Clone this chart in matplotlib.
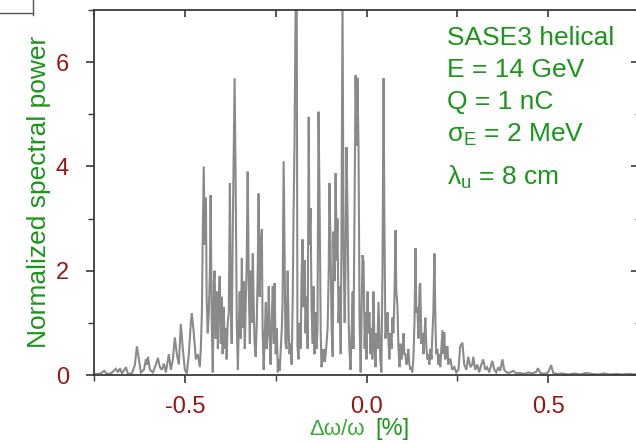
import matplotlib
matplotlib.use("Agg")
import matplotlib.pyplot as plt
from matplotlib.ticker import MultipleLocator, FixedLocator
from matplotlib.lines import Line2D

plt.rcParams['font.family'] = ['Liberation Sans', 'DejaVu Sans']
plt.rcParams['mathtext.fontset'] = 'custom'
plt.rcParams['mathtext.rm'] = 'Liberation Sans'
plt.rcParams['mathtext.it'] = 'Liberation Sans'
plt.rcParams['mathtext.bf'] = 'Liberation Sans:bold'

# ---------------- data ----------------
# relative frequency deviation, percent
freq_left = [-0.7445, -0.7308, -0.7225, -0.7143, -0.7033, -0.6896, -0.6841, -0.6786,
             -0.6731, -0.6621, -0.6566, -0.6456, -0.6374, -0.6319, -0.6264, -0.6209,
             -0.6126, -0.6071, -0.6044, -0.6016, -0.5961, -0.5879, -0.5797, -0.5742,
             -0.5687, -0.5632, -0.5577, -0.5522, -0.5440, -0.5385, -0.5330, -0.5275,
             -0.5220, -0.5165, -0.5110, -0.5055, -0.5000, -0.4945, -0.4890, -0.4835,
             -0.4808, -0.4753, -0.4698, -0.4643, -0.4588]
power_left = [0.02, 0.03, 0.08, 0.02, 0.03, 0.12, 0.05, 0.13,
              0.03, 0.15, 0.02, 0.03, 0.20, 0.55, 0.30, 0.05,
              0.10, 0.30, 0.20, 0.35, 0.10, 0.05, 0.20, 0.33,
              0.15, 0.10, 0.22, 0.05, 0.40, 0.10, 0.30, 0.72,
              0.40, 0.20, 0.98, 0.50, 0.10, 0.03, 0.40, 1.00,
              1.18, 0.80, 0.30, 0.40, 0.15]

freq_core = [-0.456, -0.453, -0.451, -0.448, -0.445, -0.442, -0.440, -0.437, -0.434, -0.431,
             -0.429, -0.426, -0.423, -0.420, -0.418, -0.415, -0.412, -0.409, -0.407, -0.404,
             -0.401, -0.398, -0.396, -0.393, -0.390, -0.387, -0.385, -0.382, -0.379, -0.376,
             -0.374, -0.371, -0.368, -0.365, -0.363, -0.360, -0.357, -0.354, -0.352, -0.349,
             -0.346, -0.343, -0.341, -0.338, -0.335, -0.332, -0.330, -0.327, -0.324, -0.321,
             -0.319, -0.316, -0.313, -0.310, -0.308, -0.305, -0.302, -0.299, -0.297, -0.294,
             -0.291, -0.288, -0.286, -0.283, -0.280, -0.277, -0.275, -0.272, -0.269, -0.266,
             -0.264, -0.261, -0.258, -0.255, -0.253, -0.250, -0.247, -0.244, -0.242, -0.239,
             -0.236, -0.233, -0.231, -0.228, -0.225, -0.223, -0.220, -0.217, -0.214, -0.212,
             -0.209, -0.206, -0.203, -0.201, -0.198, -0.195, -0.192, -0.190, -0.187, -0.184,
             -0.181, -0.179, -0.176, -0.173, -0.170, -0.168, -0.165, -0.162, -0.159, -0.157,
             -0.154, -0.151, -0.148, -0.146, -0.143, -0.140, -0.137, -0.135, -0.132, -0.129,
             -0.126, -0.124, -0.121, -0.118, -0.115, -0.113, -0.110, -0.107, -0.104, -0.102,
             -0.099, -0.096, -0.093, -0.091, -0.088, -0.085, -0.082, -0.080, -0.077, -0.074,
             -0.071, -0.069, -0.066, -0.063, -0.060, -0.058, -0.055, -0.052, -0.049, -0.047,
             -0.044, -0.041, -0.038, -0.036, -0.033, -0.030, -0.027, -0.025, -0.022, -0.019,
             -0.016, -0.014, -0.011, -0.008, -0.005, -0.003, 0.000, 0.003, 0.005, 0.008,
             0.011, 0.014, 0.016, 0.019, 0.022, 0.025, 0.027, 0.030, 0.033, 0.036,
             0.038, 0.041, 0.044, 0.047, 0.049, 0.052, 0.055, 0.058, 0.060, 0.063,
             0.066, 0.069, 0.071, 0.074, 0.077, 0.080, 0.082, 0.085, 0.088, 0.091,
             0.093, 0.096, 0.099, 0.102, 0.104, 0.107, 0.110, 0.113, 0.115, 0.118,
             0.121, 0.124, 0.126, 0.129, 0.132, 0.135, 0.137, 0.140, 0.143, 0.146,
             0.148, 0.151, 0.154, 0.157, 0.159, 0.162, 0.165, 0.168, 0.170, 0.173,
             0.176, 0.179, 0.181, 0.184, 0.187, 0.190, 0.192, 0.195, 0.198, 0.201,
             0.203, 0.206, 0.209, 0.212, 0.214, 0.217, 0.220, 0.223, 0.225, 0.228,
             0.231]
power_core = [0.50, 1.20, 2.50, 4.00, 2.50, 3.40, 1.50, 0.80, 1.20, 2.00,
              3.45, 1.00, 0.05, 1.80, 2.00, 0.70, 1.60, 0.50, 1.40, 1.90,
              0.60, 1.50, 0.40, 1.30, 0.50, 0.90, 0.30, 1.00, 1.20, 3.68,
              1.50, 0.60, 2.80, 4.50, 5.69, 3.60, 1.00, 0.10, 0.80, 1.60,
              0.70, 2.24, 0.90, 1.80, 0.50, 1.50, 2.00, 3.90, 1.70, 0.60,
              2.00, 1.00, 2.33, 1.20, 0.60, 0.35, 1.00, 2.20, 3.48, 1.50,
              2.50, 2.80, 0.90, 0.10, 0.80, 1.40, 0.50, 0.80, 1.70, 0.60,
              0.20, 1.00, 1.70, 0.60, 1.76, 0.40, 0.90, 0.05, 0.30, 0.08,
              0.50, 0.90, 1.40, 4.10, 2.00, 0.60, 0.50, 2.00, 0.80, 0.40,
              0.60, 0.20, 1.50, 2.97, 4.50, 7.20, 7.20, 0.55, 0.30, 1.00,
              0.50, 1.80, 2.60, 1.30, 2.20, 0.80, 1.50, 0.50, 4.95, 2.50,
              3.20, 1.20, 0.60, 1.70, 0.40, 1.20, 0.50, 0.90, 5.05, 3.20,
              0.80, 0.15, 0.30, 0.50, 0.25, 0.35, 0.60, 0.90, 2.00, 3.68,
              2.50, 0.90, 0.35, 2.75, 1.80, 3.87, 2.20, 3.00, 1.00, 1.70,
              0.40, 2.50, 7.20, 2.30, 1.00, 2.00, 4.37, 3.00, 1.00, 0.50,
              0.10, 0.80, 1.60, 0.50, 3.00, 5.75, 4.40, 5.70, 4.40, 1.00,
              0.05, 1.00, 2.30, 2.17, 0.50, 1.20, 0.30, 1.60, 0.80, 1.20,
              0.40, 0.90, 0.30, 1.60, 0.60, 0.15, 0.80, 0.50, 1.40, 0.70,
              0.30, 0.05, 2.00, 5.69, 3.20, 0.70, 0.90, 1.20, 0.70, 0.30,
              0.80, 0.50, 1.10, 0.80, 1.50, 2.78, 1.60, 1.35, 0.50, 0.15,
              0.60, 0.30, 0.50, 0.80, 0.40, 0.40, 0.20, 0.30, 0.50, 0.20,
              0.10, 0.15, 0.05, 0.30, 1.00, 2.43, 1.20, 1.30, 0.70, 1.70,
              1.76, 0.60, 0.80, 0.40, 0.70, 1.10, 0.50, 0.30, 0.40, 0.20,
              0.50, 0.30, 0.73, 1.20, 2.33, 0.90, 0.40, 0.50, 0.20, 0.40,
              0.15, 0.50, 0.86, 0.40, 0.82, 0.30, 0.50, 0.55, 0.20, 0.30,
              0.30]

freq_right = [0.236, 0.242, 0.247, 0.253, 0.258, 0.264, 0.269, 0.275, 0.280, 0.286,
              0.291, 0.294, 0.299, 0.305, 0.310, 0.316, 0.321, 0.327, 0.332, 0.338,
              0.346, 0.352, 0.357, 0.363, 0.368, 0.374, 0.379, 0.385, 0.393, 0.404,
              0.412, 0.423, 0.434, 0.445, 0.456, 0.467, 0.472, 0.478, 0.489, 0.500,
              0.508, 0.514, 0.525, 0.538, 0.555, 0.571, 0.588, 0.604, 0.621, 0.637,
              0.654, 0.670, 0.687, 0.703, 0.720, 0.745]
power_right = [0.10, 0.15, 0.05, 0.10, 0.55, 0.62, 0.20, 0.10, 0.35, 0.15,
               0.20, 0.35, 0.10, 0.20, 0.05, 0.20, 0.30, 0.10, 0.15, 0.05,
               0.27, 0.10, 0.05, 0.15, 0.08, 0.30, 0.10, 0.05, 0.04, 0.08,
               0.03, 0.04, 0.02, 0.05, 0.03, 0.06, 0.13, 0.04, 0.02, 0.05,
               0.19, 0.04, 0.02, 0.03, 0.01, 0.03, 0.01, 0.04, 0.02, 0.01,
               0.03, 0.01, 0.02, 0.01, 0.02, 0.01]

x_major = [-0.5, 0.0, 0.5]
x_tick_labels = ['-0.5', '0.0', '0.5']
y_major = [0, 2, 4, 6]
y_tick_labels = ['0', '2', '4', '6']

info_lines = ['SASE3 helical', 'E = 14 GeV', 'Q = 1 nC',
              r'$\sigma_{\mathrm{E}}$ = 2 MeV', r'$\lambda_{\mathrm{u}}$ = 8 cm']

# ---------------- styling ----------------
GREEN = '#1a961a'
LIGHT_GREEN = '#3aa83a'
RED = '#9a1414'
GRAY = '#8a8a8a'
AXC = '#3a3a3a'

W, H = 636, 444
fig = plt.figure(figsize=(W / 100, H / 100), dpi=100)
left_px, right_px, top_px, bot_px = 94, 639, 10, 375
ax = fig.add_axes([left_px / W, 1 - bot_px / H, (right_px - left_px) / W, (bot_px - top_px) / H])

freq = freq_left + freq_core + freq_right
power = power_left + power_core + power_right
ax.plot(freq, power, color=GRAY, lw=1.5, solid_joinstyle='miter')

ax.set_xlim(-0.75, 0.75)
ax.set_ylim(0, 7)

ax.xaxis.set_major_locator(FixedLocator(x_major))
ax.set_xticklabels(x_tick_labels)
ax.xaxis.set_minor_locator(MultipleLocator(0.25))
ax.yaxis.set_major_locator(FixedLocator(y_major))
ax.set_yticklabels(y_tick_labels)
ax.yaxis.set_minor_locator(MultipleLocator(1))

for s in ax.spines.values():
    s.set_color(AXC)
    s.set_linewidth(1.3)

ax.tick_params(which='major', direction='out', length=6, width=1.2, color=AXC,
               labelcolor=RED, labelsize=17)
ax.tick_params(which='minor', direction='out', length=4, width=1.0, color=AXC)
ax.tick_params(axis='x', which='major', pad=9)
ax.tick_params(axis='y', which='major', pad=12)

# inward ticks on top and right
secx = ax.secondary_xaxis('top')
secx.xaxis.set_major_locator(FixedLocator(x_major))
secx.xaxis.set_minor_locator(MultipleLocator(0.25))
secx.tick_params(which='both', direction='in', length=5, width=1.2, color=AXC, labeltop=False)
secx.spines['top'].set_visible(False)
secy = ax.secondary_yaxis('right')
secy.yaxis.set_major_locator(FixedLocator(y_major))
secy.yaxis.set_minor_locator(MultipleLocator(1))
secy.tick_params(which='major', direction='in', length=6, width=1.2, color=AXC, labelright=False)
secy.tick_params(which='minor', direction='in', length=3, width=1.0, color=AXC, labelright=False)
secy.spines['right'].set_visible(False)

fig.text(39 / W, 1 - 192 / H, 'Normalized spectral power', rotation=90, color=GREEN,
         fontsize=19, ha='center', va='center')
fig.text(365 / W, 1 - 429 / H, 'Δω/ω', color=LIGHT_GREEN, fontsize=16,
         ha='right', va='center')
fig.text(375 / W, 1 - 429 / H, '[%]', color=GREEN, fontsize=17,
         ha='left', va='center')

baselines = [45, 77, 109, 142, 185]
for txt, b in zip(info_lines, baselines):
    fig.text(447 / W, 1 - b / H, txt, color=GREEN, fontsize=19, ha='left', va='baseline')

# fragment of a neighbouring frame in the top-left corner
fig.add_artist(Line2D([0, 33 / W], [1 - 13 / H, 1 - 13 / H], transform=fig.transFigure,
                      color='#555555', lw=1.0))
fig.add_artist(Line2D([33 / W, 33 / W], [1, 1 - 15 / H], transform=fig.transFigure,
                      color='#555555', lw=1.0))

fig.savefig('out.png', dpi=100)
